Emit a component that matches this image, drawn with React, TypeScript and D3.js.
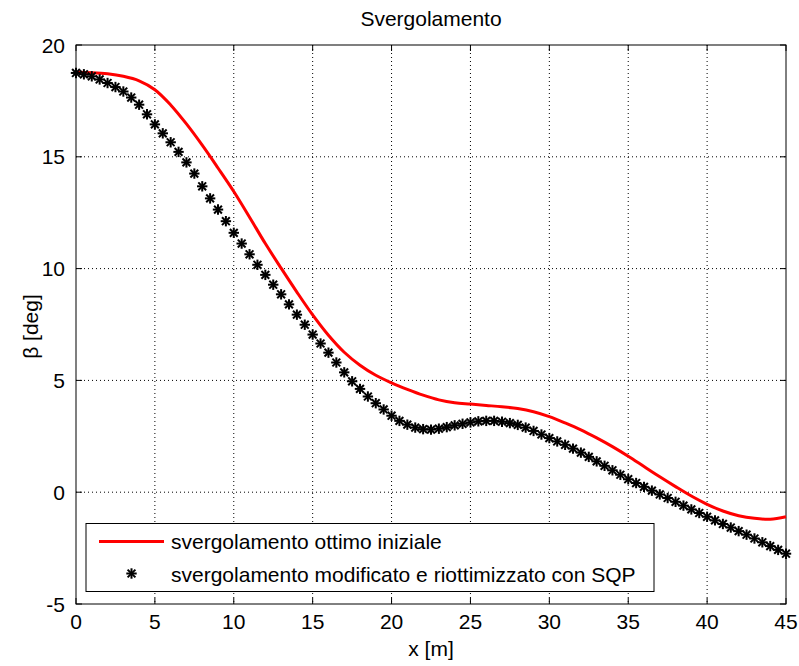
import React from "react";
import * as d3 from "d3";

const title = "Svergolamento";
const xLabel = "x [m]";
const yLabel = "β [deg]";
const legendLabels = [
  "svergolamento ottimo iniziale",
  "svergolamento modificato e riottimizzato con SQP",
];

const xTicks = [0, 5, 10, 15, 20, 25, 30, 35, 40, 45];
const yTicks = [-5, 0, 5, 10, 15, 20];

// Red line: initial optimal twist, sampled every 1 m
const redX = [
  0, 1, 2, 3, 4, 5, 6, 7, 8, 9, 10, 11, 12, 13, 14, 15, 16, 17, 18, 19, 20, 21, 22,
  23, 24, 25, 26, 27, 28, 29, 30, 31, 32, 33, 34, 35, 36, 37, 38, 39, 40, 41, 42,
  43, 44, 45,
];
const redY = [
  18.78, 18.76, 18.71, 18.6, 18.4, 18.0, 17.32, 16.47, 15.52, 14.5, 13.45, 12.3,
  11.12, 10.02, 8.95, 7.93, 7.02, 6.26, 5.68, 5.23, 4.89, 4.6, 4.34, 4.13, 4.0, 3.94,
  3.88, 3.82, 3.74, 3.6, 3.38, 3.1, 2.79, 2.43, 2.04, 1.61, 1.15, 0.69, 0.25, -0.17,
  -0.54, -0.84, -1.05, -1.17, -1.21, -1.1,
];

// Black stars: modified and re-optimized twist, sampled every 0.5 m
const starX = [
  0, 0.5, 1, 1.5, 2, 2.5, 3, 3.5, 4, 4.5, 5, 5.5, 6, 6.5, 7, 7.5, 8, 8.5, 9, 9.5,
  10, 10.5, 11, 11.5, 12, 12.5, 13, 13.5, 14, 14.5, 15, 15.5, 16, 16.5, 17, 17.5,
  18, 18.5, 19, 19.5, 20, 20.5, 21, 21.5, 22, 22.5, 23, 23.5, 24, 24.5, 25, 25.5,
  26, 26.5, 27, 27.5, 28, 28.5, 29, 29.5, 30, 30.5, 31, 31.5, 32, 32.5, 33, 33.5,
  34, 34.5, 35, 35.5, 36, 36.5, 37, 37.5, 38, 38.5, 39, 39.5, 40, 40.5, 41, 41.5,
  42, 42.5, 43, 43.5, 44, 44.5, 45,
];
const starY = [
  18.75, 18.69, 18.6, 18.46, 18.3, 18.12, 17.92, 17.65, 17.33, 16.9, 16.45, 16.05,
  15.65, 15.22, 14.75, 14.25, 13.68, 13.14, 12.64, 12.12, 11.6, 11.12, 10.64, 10.17,
  9.72, 9.28, 8.85, 8.4, 7.94, 7.49, 7.05, 6.65, 6.24, 5.8, 5.36, 4.96, 4.62, 4.28,
  3.98, 3.7, 3.42, 3.19, 3.02, 2.89, 2.82, 2.8, 2.84, 2.91, 2.99, 3.06, 3.12, 3.17,
  3.19, 3.19, 3.15, 3.09, 3.01, 2.89, 2.74, 2.58, 2.42, 2.27, 2.12, 1.95, 1.77, 1.58,
  1.38, 1.18, 0.98, 0.78, 0.58, 0.41, 0.24, 0.07, -0.1, -0.26, -0.43, -0.6, -0.77,
  -0.93, -1.1, -1.26, -1.42, -1.58, -1.74, -1.9, -2.07, -2.24, -2.41, -2.58, -2.75,
];

const W = 799;
const H = 666;
const L = 76;
const R = 786;
const T = 45;
const B = 604;
const FONT = "'Liberation Sans', Arial, Helvetica, sans-serif";
const FS = 21;

export default function App() {
  const x = d3.scaleLinear().domain([0, 45]).range([L, R]);
  const y = d3.scaleLinear().domain([-5, 20]).range([B, T]);

  const redData: [number, number][] = redX.map((v, i) => [v, redY[i]]);
  const line = d3
    .line<[number, number]>()
    .x((d) => x(d[0]))
    .y((d) => y(d[1]))
    .curve(d3.curveCatmullRom.alpha(0.5));

  const star = (cx: number, cy: number, key: string | number) => {
    const a = 5.2;
    const b = 3.9;
    return (
      <g key={key} stroke="#000" strokeWidth={2} strokeLinecap="butt">
        <line x1={cx - a} y1={cy} x2={cx + a} y2={cy} />
        <line x1={cx} y1={cy - a} x2={cx} y2={cy + a} />
        <line x1={cx - b} y1={cy - b} x2={cx + b} y2={cy + b} />
        <line x1={cx - b} y1={cy + b} x2={cx + b} y2={cy - b} />
      </g>
    );
  };

  const tickLen = 6;

  return (
    <svg
      width={W}
      height={H}
      style={{ position: "absolute", left: 0, top: 0, background: "#fff" }}
      fontFamily={FONT}
    >
      <rect x={0} y={0} width={W} height={H} fill="#fff" />
      {/* grid */}
      <g stroke="#000" strokeWidth={1} strokeDasharray="1,3">
        {xTicks.slice(1, -1).map((t) => (
          <line key={"gx" + t} x1={x(t)} x2={x(t)} y1={T} y2={B} />
        ))}
        {yTicks.slice(1, -1).map((t) => (
          <line key={"gy" + t} x1={L} x2={R} y1={y(t)} y2={y(t)} />
        ))}
      </g>
      {/* ticks */}
      <g stroke="#000" strokeWidth={1}>
        {xTicks.map((t) => (
          <g key={"tx" + t}>
            <line x1={x(t)} x2={x(t)} y1={B} y2={B - tickLen} />
            <line x1={x(t)} x2={x(t)} y1={T} y2={T + tickLen} />
          </g>
        ))}
        {yTicks.map((t) => (
          <g key={"ty" + t}>
            <line x1={L} x2={L + tickLen} y1={y(t)} y2={y(t)} />
            <line x1={R} x2={R - tickLen} y1={y(t)} y2={y(t)} />
          </g>
        ))}
      </g>
      <rect x={L} y={T} width={R - L} height={B - T} fill="none" stroke="#000" strokeWidth={1} />
      {/* tick labels */}
      <g fontSize={FS} fill="#000">
        {xTicks.map((t) => (
          <text key={"lx" + t} x={x(t)} y={B + 25} textAnchor="middle">
            {t}
          </text>
        ))}
        {yTicks.map((t) => (
          <text key={"ly" + t} x={L - 11} y={y(t) + 7.5} textAnchor="end">
            {t}
          </text>
        ))}
      </g>
      {/* data */}
      <path d={line(redData) || ""} fill="none" stroke="#ff0000" strokeWidth={3} />
      <g>{starX.map((v, i) => star(x(v), y(starY[i]), i))}</g>
      {/* title and labels */}
      <text x={(L + R) / 2} y={26} textAnchor="middle" fontSize={FS} fill="#000">
        {title}
      </text>
      <text x={(L + R) / 2} y={656} textAnchor="middle" fontSize={FS} fill="#000">
        {xLabel}
      </text>
      <text
        transform={`translate(38, ${(T + B) / 2 + 2}) rotate(-90)`}
        textAnchor="middle"
        fontSize={FS}
        fill="#000"
      >
        {yLabel}
      </text>
      {/* legend */}
      <g>
        <rect x={86} y={523.5} width={568} height={68} fill="#fff" stroke="#000" strokeWidth={1} />
        <line x1={99} x2={164} y1={541.5} y2={541.5} stroke="#ff0000" strokeWidth={3} />
        <text x={171} y={549} fontSize={FS} fill="#000">
          {legendLabels[0]}
        </text>
        {star(131.5, 573.5, "leg")}
        <text x={171} y={582} fontSize={FS} fill="#000">
          {legendLabels[1]}
        </text>
      </g>
    </svg>
  );
}
